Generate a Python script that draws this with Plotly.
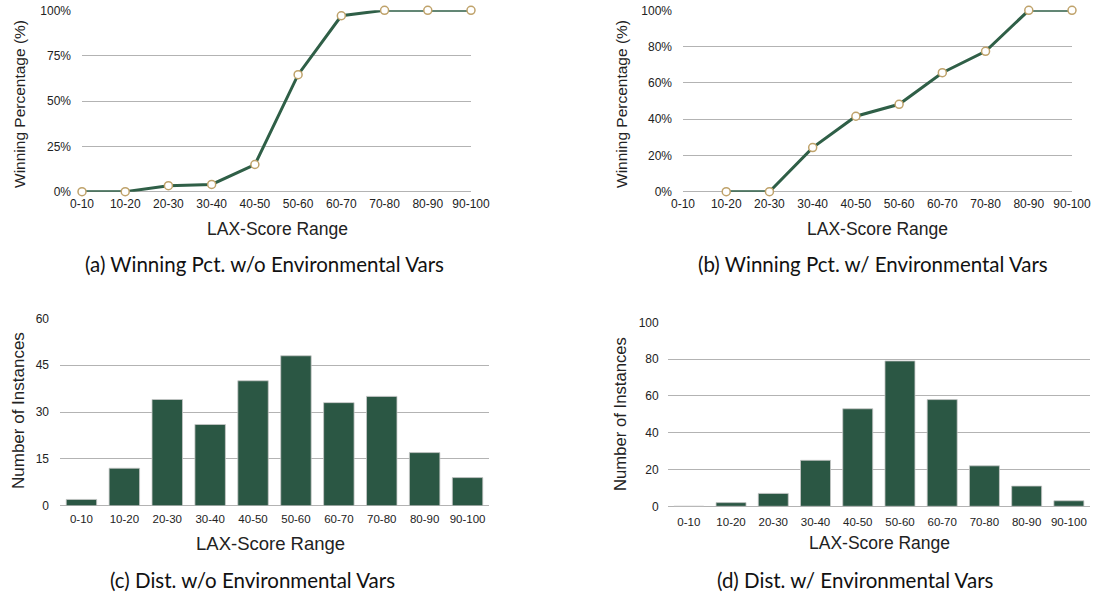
import plotly.graph_objects as go

categories = ["0-10", "10-20", "20-30", "30-40", "40-50", "50-60", "60-70", "70-80", "80-90", "90-100"]
win_pct_without_env = [0, 0, 3.3, 4, 15, 64.5, 97, 100, 100, 100]
win_pct_with_env = [None, 0, 0, 24.3, 41.6, 48.2, 65.6, 77.4, 100, 100]
dist_without_env = [2, 12, 34, 26, 40, 48, 33, 35, 17, 9]
dist_with_env = [0, 2, 7, 25, 53, 79, 58, 22, 11, 3]
pct_ticks_a = [0, 25, 50, 75, 100]
pct_ticks_b = [0, 20, 40, 60, 80, 100]
count_ticks_c = [0, 15, 30, 45, 60]
count_ticks_d = [0, 20, 40, 60, 80, 100]

W, H = 1095, 593
LINE = "#2f5f47"
BAR = "#2b5744"
MARK = "#bfa26a"
GRID = "#b3b3b3"
TXT = "#222222"
TICKF = "Liberation Sans, Arial, sans-serif"
CAPF = "Lato, Noto Sans, sans-serif"


def px_x(a, b):
    return [a / W, b / W]


def px_y(top, bottom):
    return [1 - bottom / H, 1 - top / H]


fig = go.Figure()

fig.add_trace(go.Scatter(x=categories, y=win_pct_without_env, mode="lines+markers",
                         line=dict(color=LINE, width=3),
                         marker=dict(size=8, color="white", line=dict(color=MARK, width=1.5)),
                         cliponaxis=False, xaxis="x", yaxis="y", showlegend=False))
fig.add_trace(go.Scatter(x=categories, y=win_pct_with_env, mode="lines+markers",
                         line=dict(color=LINE, width=3),
                         marker=dict(size=8, color="white", line=dict(color=MARK, width=1.5)),
                         cliponaxis=False, xaxis="x2", yaxis="y2", showlegend=False))
fig.add_trace(go.Bar(x=categories, y=dist_without_env, marker=dict(color=BAR, line=dict(color="#c8c8c8", width=0.8)),
                     xaxis="x3", yaxis="y3", showlegend=False))
fig.add_trace(go.Bar(x=categories, y=dist_with_env, marker=dict(color=BAR, line=dict(color="#c8c8c8", width=0.8)),
                     xaxis="x4", yaxis="y4", showlegend=False))

xcommon = dict(type="category", categoryorder="array", categoryarray=categories,
               showgrid=False, zeroline=False, showline=False, ticks="", automargin=False,
               tickfont=dict(family=TICKF, size=12, color=TXT), fixedrange=True)
ycommon = dict(showgrid=True, gridcolor=GRID, gridwidth=1, zeroline=True, zerolinecolor=GRID,
               zerolinewidth=1, showline=False, ticks="", fixedrange=True, automargin=False,
               tickmode="array", tickfont=dict(family=TICKF, size=12, color=TXT))

fig.update_layout(
    width=W, height=H, margin=dict(l=0, r=0, t=0, b=0, autoexpand=False),
    paper_bgcolor="white", plot_bgcolor="white", bargap=0.29,
    xaxis=dict(xcommon, domain=px_x(82, 471), range=[0, 9], anchor="y", ticklabelstandoff=3),
    yaxis=dict(ycommon, domain=px_y(10.3, 191.7), range=[0, 100], tickvals=pct_ticks_a,
               ticktext=[f"{v}%" for v in pct_ticks_a], anchor="x", ticklabelstandoff=10),
    xaxis2=dict(xcommon, domain=px_x(683, 1072), range=[0, 9], anchor="y2", ticklabelstandoff=3),
    yaxis2=dict(ycommon, domain=px_y(10.3, 191.7), range=[0, 100], tickvals=pct_ticks_b,
                ticktext=[f"{v}%" for v in pct_ticks_b], anchor="x2", ticklabelstandoff=10),
    xaxis3=dict(xcommon, domain=px_x(60, 489), range=[-0.5, 9.5], anchor="y3", ticklabelstandoff=5,
                tickfont=dict(family=TICKF, size=11.5, color=TXT)),
    yaxis3=dict(ycommon, domain=px_y(318.3, 505.7), range=[0, 60], tickvals=count_ticks_c,
                ticktext=[str(v) for v in count_ticks_c], anchor="x3", ticklabelstandoff=10),
    xaxis4=dict(xcommon, domain=px_x(667.7, 1090), range=[-0.5, 9.5], anchor="y4", ticklabelstandoff=7,
                tickfont=dict(family=TICKF, size=11.5, color=TXT)),
    yaxis4=dict(ycommon, domain=px_y(322.3, 506.3), range=[0, 100], tickvals=count_ticks_d,
                ticktext=[str(v) for v in count_ticks_d], anchor="x4", ticklabelstandoff=8),
)


def ann(text, x, y, size, family=TICKF, angle=0):
    fig.add_annotation(text=text, x=x / W, y=1 - y / H, xref="paper", yref="paper",
                       showarrow=False, xanchor="center", yanchor="middle", textangle=angle,
                       font=dict(family=family, size=size, color=TXT if family == TICKF else "#111"))


ann("LAX-Score Range", 277, 229, 17.5)
ann("LAX-Score Range", 877, 229, 17.5)
ann("LAX-Score Range", 270, 543, 18.5)
ann("LAX-Score Range", 879, 543, 17.5)
ann("Winning Percentage (%)", 19, 104, 15.5, angle=-90)
ann("Winning Percentage (%)", 621, 104, 15.5, angle=-90)
ann("Number of Instances", 18, 411, 17, angle=-90)
ann("Number of Instances", 620, 414, 16.7, angle=-90)

ann("(a) Winning Pct. w/o Environmental Vars", 264, 264, 20.5, family=CAPF)
ann("(b) Winning Pct. w/ Environmental Vars", 873, 264, 20.5, family=CAPF)
ann("(c) Dist. w/o Environmental Vars", 252, 580, 20.5, family=CAPF)
ann("(d) Dist. w/ Environmental Vars", 855, 580, 20.5, family=CAPF)

fig.write_html("out.html", config={"displayModeBar": False, "staticPlot": True},
               post_script="document.body.style.margin='0';document.body.style.overflow='hidden';")
